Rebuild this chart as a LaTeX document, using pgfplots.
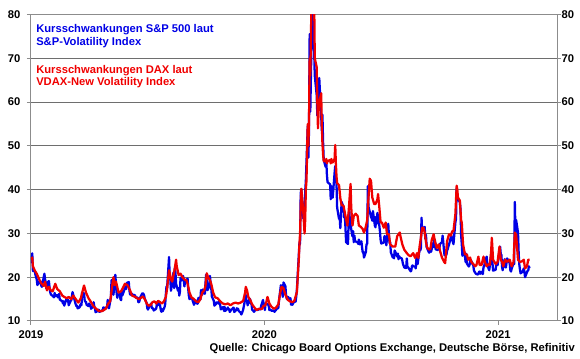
\documentclass[border=0pt]{standalone}
\usepackage{fontspec}
\setmainfont{Liberation Sans}
\usepackage{pgfplots}
\pgfplotsset{compat=1.18}
\definecolor{vixblue}{RGB}{0,0,230}
\definecolor{vdaxred}{RGB}{240,0,0}
\definecolor{gridgray}{RGB}{110,110,110}
\definecolor{axisgray}{RGB}{140,140,140}
\newcommand{\lblfont}{\bfseries\fontsize{8.4}{10}\selectfont}
\begin{document}
\begin{tikzpicture}
\path[use as bounding box] (-23.25pt,-28.5pt) rectangle (411.75pt,240.75pt);
\begin{axis}[
  at={(0pt,0pt)}, anchor=south west,
  scale only axis, width=394.5pt, height=229.875pt,
  xmin=0, xmax=823, ymin=10, ymax=80,
  xtick={0,365,731}, xticklabels={2019,2020,2021},
  ytick={10,20,...,80},
  xtick pos=left, ytick pos=both,
  tick align=outside, major tick length=3pt,
  tick style={draw=axisgray, line width=0.75pt},
  axis line style={draw=axisgray, line width=0.75pt},
  ymajorgrids, grid style={draw=gridgray, line width=0.75pt},
  ticklabel style={font=\lblfont},
  /pgf/number format/assume math mode=true,
  yticklabel style={xshift=-1.4pt},
  xticklabel style={yshift=-0.8pt},
  clip=true,
  every axis plot/.append style={line join=round, line width=1.7pt},
]
\addplot[vixblue] coordinates {
(1,23.2)(2,25.45)(3,21.4)(6,21.4)(7,20.5)(8,20.0)(9,19.5)(10,18.2)(13,19.1)(14,18.6)(15,19.0)(16,18.1)(17,17.8)(21,20.8)(22,19.5)(23,18.9)(24,17.4)(27,19.0)(28,19.1)(29,17.7)(30,16.6)(31,16.1)(34,15.7)(35,15.6)(36,15.4)(37,16.4)(38,15.7)(41,15.9)(42,15.4)(43,15.65)(44,16.2)(45,14.9)(49,14.5)(50,14.0)(51,14.5)(52,13.5)(55,14.8)(56,15.2)(57,14.7)(58,14.8)(59,13.6)(62,14.6)(63,14.7)(64,15.7)(65,16.6)(66,16.05)(69,14.3)(70,13.8)(71,13.4)(72,13.5)(73,12.9)(76,13.1)(77,13.6)(78,13.9)(79,13.6)(80,16.5)(83,16.3)(84,14.7)(85,14.4)(86,14.4)(87,13.7)(90,13.4)(91,14.0)(92,13.7)(93,13.6)(94,12.8)(97,13.2)(98,14.3)(99,13.3)(100,13.0)(101,12.0)(104,12.3)(105,12.2)(106,12.6)(107,12.1)(111,12.4)(112,12.3)(113,13.1)(114,13.1)(115,12.7)(118,13.1)(119,13.1)(120,14.8)(121,14.4)(122,12.9)(125,15.4)(126,19.3)(127,19.4)(128,19.1)(129,16.0)(132,20.55)(133,18.1)(134,16.4)(135,15.3)(136,15.96)(139,16.2)(140,14.95)(141,14.75)(142,16.9)(143,15.85)(147,17.5)(148,17.9)(149,17.3)(150,18.7)(153,18.9)(154,16.97)(155,16.1)(156,16.0)(157,16.3)(160,15.9)(161,15.99)(162,15.9)(163,15.8)(164,15.3)(167,15.35)(168,14.3)(169,14.3)(170,14.75)(171,15.4)(174,16.3)(175,16.3)(176,16.2)(177,15.8)(178,15.1)(181,14.06)(182,12.9)(183,12.6)(185,13.3)(188,14.0)(189,13.0)(190,12.9)(191,12.9)(192,12.4)(195,12.7)(196,12.9)(197,13.97)(198,13.5)(199,14.45)(202,13.5)(203,12.6)(204,12.1)(205,12.7)(206,12.2)(209,13.2)(210,13.9)(211,16.1)(212,17.9)(213,17.6)(216,24.6)(217,20.2)(218,19.5)(219,16.9)(220,17.97)(223,21.1)(224,17.5)(225,22.1)(226,21.2)(227,18.5)(230,16.9)(231,17.5)(232,15.8)(233,16.7)(234,19.9)(237,19.3)(238,20.3)(239,19.35)(240,17.9)(241,18.98)(245,19.7)(246,17.3)(247,15.8)(248,15.0)(251,15.3)(252,15.2)(253,14.6)(254,14.2)(255,13.7)(258,14.7)(259,14.4)(260,13.95)(261,14.0)(262,15.3)(265,14.9)(266,17.05)(267,15.96)(268,16.07)(269,17.2)(272,16.2)(273,18.6)(274,20.56)(275,19.1)(276,17.04)(279,17.9)(280,20.3)(281,18.6)(282,17.6)(283,15.6)(286,14.6)(287,13.5)(288,13.7)(289,13.8)(290,14.25)(293,14.0)(294,14.5)(295,14.0)(296,13.7)(297,12.65)(300,13.1)(301,13.2)(302,12.3)(303,13.2)(304,12.3)(307,12.8)(308,13.1)(309,12.6)(310,12.7)(311,12.07)(314,12.7)(315,12.7)(316,13.0)(317,13.05)(318,12.05)(321,12.5)(322,12.9)(323,12.8)(324,12.8)(325,12.3)(328,11.9)(329,11.5)(330,11.75)(332,12.6)(335,14.9)(336,15.96)(337,14.8)(338,14.5)(339,13.6)(342,15.1)(343,14.9)(344,14.0)(345,13.9)(346,12.6)(349,12.1)(350,12.3)(351,12.6)(352,12.5)(353,12.5)(356,12.6)(357,12.7)(359,12.65)(360,13.4)(363,14.8)(364,13.8)
(366,12.5)(367,14.0)(370,13.85)(371,13.8)(372,13.45)(373,12.5)(374,12.6)(377,12.3)(378,12.4)(379,12.4)(380,12.3)(381,12.1)(385,12.85)(386,12.9)(387,12.98)(388,14.6)(391,18.2)(392,16.3)(393,16.4)(394,15.5)(395,18.8)(398,17.97)(399,16.05)(400,15.15)(401,14.96)(402,15.5)(405,15.0)(406,15.2)(407,13.7)(408,14.15)(409,13.7)(413,14.8)(414,14.4)(415,15.6)(416,17.1)(419,25.0)(420,27.85)(421,27.6)(422,39.2)(423,40.1)(426,33.4)(427,36.8)(428,32.0)(429,39.6)(430,41.9)(433,54.5)(434,47.3)(435,53.9)(436,75.5)(437,57.8)(440,82.7)(441,75.9)(442,76.45)(443,72.0)(444,66.0)(447,61.6)(448,56.9)(449,63.95)(450,61.0)(451,65.5)(454,57.1)(455,53.5)(456,57.1)(457,50.9)(458,46.8)(461,45.2)(462,46.7)(463,43.35)(464,41.7)(468,41.2)(469,37.8)(470,40.8)(471,40.1)(472,38.15)(475,43.8)(476,45.4)(477,42.0)(478,41.4)(479,35.9)(482,33.3)(483,33.6)(484,31.2)(485,34.15)(486,37.2)(489,36.0)(490,33.6)(491,34.1)(492,31.4)(493,28.0)(496,27.6)(497,33.0)(498,35.3)(499,32.6)(500,31.9)(503,29.3)(504,30.5)(505,28.0)(506,29.5)(507,28.2)(511,28.0)(512,27.6)(513,28.6)(514,27.5)(517,28.2)(518,26.8)(519,25.7)(520,25.8)(521,24.5)(524,25.8)(525,27.6)(526,27.6)(527,40.8)(528,36.1)(531,34.4)(532,33.7)(533,33.5)(534,32.9)(535,35.1)(538,31.8)(539,31.4)(540,33.8)(541,32.2)(542,34.7)(545,31.8)(546,30.4)(547,28.6)(548,27.7)(552,27.9)(553,29.4)(554,28.1)(555,29.3)(556,27.3)(559,32.2)(560,29.5)(561,27.8)(562,28.0)(563,25.7)(566,24.5)(567,24.8)(568,24.3)(569,26.1)(570,25.8)(573,24.7)(574,25.4)(575,24.1)(576,24.8)(577,24.5)(580,24.3)(581,23.8)(582,23.0)(583,22.65)(584,22.2)(587,22.1)(588,24.3)(589,22.3)(590,22.3)(591,22.05)(594,21.35)(595,21.5)(596,22.5)(597,22.7)(598,22.5)(601,22.4)(602,22.0)(603,24.1)(604,24.5)(605,23.0)(608,26.4)(609,26.1)(610,26.6)(611,33.6)(612,30.75)(616,31.5)(617,28.8)(618,29.7)(619,26.9)(622,25.85)(623,25.6)(624,26.0)(625,26.5)(626,25.8)(629,27.8)(630,26.9)(631,28.6)(632,28.5)(633,26.4)(636,26.2)(637,26.3)(638,26.4)(639,26.7)(640,27.6)(643,28.0)(644,29.5)(645,28.1)(646,26.4)(647,25.0)(650,25.1)(651,26.1)(652,26.4)(653,27.0)(654,27.4)(657,29.2)(658,29.4)(659,28.65)(660,28.1)(661,27.55)(664,32.5)(665,33.35)(666,40.3)(667,37.6)(668,38.0)(671,37.1)(672,35.55)(673,29.6)(674,27.6)(675,24.9)(678,25.75)(679,24.8)(680,23.45)(681,25.35)(682,23.1)(685,22.45)(686,22.7)(687,23.8)(688,23.1)(689,23.7)(692,22.7)(693,21.6)(694,21.25)(696,20.8)(699,20.6)(700,20.8)(701,21.2)(702,21.3)(703,20.8)(706,21.3)(707,20.7)(708,22.3)(709,22.5)(710,23.3)(713,24.7)(714,22.9)(715,22.5)(716,21.9)(717,21.6)(720,25.2)(721,24.2)(722,23.3)(723,21.5)(727,21.7)(728,23.1)(729,22.8)(730,22.75)(734,26.97)(735,25.3)(736,25.1)(737,22.4)(738,21.6)(741,24.1)(742,23.3)(743,22.2)(744,23.25)(745,24.3)(749,23.2)(750,21.6)(751,21.3)(752,21.9)(755,23.2)(756,23.0)(757,37.2)(758,30.2)(759,33.1)(762,30.2)(763,25.6)(764,22.9)(765,21.8)(766,20.9)(769,21.2)(770,21.6)(771,22.0)(772,21.25)(773,20.0)(777,21.5)(778,21.5)(779,22.5)(780,22.05)
};
\addplot[vdaxred] coordinates {
(1,24.0)(2,24.5)(3,22.5)(6,21.5)(9,20.8)(13,19.5)(16,18.6)(20,18.0)(22,19.0)(25,17.0)(28,17.8)(31,17.0)(34,16.8)(38,18.5)(41,17.3)(45,16.8)(49,15.8)(52,15.5)(56,15.2)(59,15.5)(63,15.0)(66,15.8)(70,15.0)(74,14.2)(78,15.2)(81,17.0)(83,18.1)(86,16.5)(90,15.2)(94,14.3)(98,13.3)(102,12.8)(106,12.3)(110,12.2)(114,12.5)(117,12.8)(121,14.0)(124,14.5)(127,18.0)(129,20.0)(131,18.2)(133,19.0)(137,16.5)(141,16.8)(144,17.6)(147,18.5)(151,18.2)(155,17.0)(158,15.8)(163,15.5)(166,15.2)(169,15.0)(172,15.3)(175,15.6)(178,15.0)(181,14.0)(184,13.5)(187,13.6)(190,14.3)(193,14.5)(196,14.0)(199,14.6)(202,14.3)(205,14.0)(208,14.5)(211,15.5)(213,17.5)(216,21.6)(217,21.0)(219,19.5)(221,19.0)(223,20.5)(225,22.0)(227,24.0)(228,22.5)(231,20.5)(234,20.8)(237,20.0)(240,19.5)(243,19.3)(245,18.5)(248,16.5)(251,15.4)(255,15.0)(258,14.5)(262,14.3)(265,15.0)(268,16.5)(271,17.0)(273,18.0)(275,20.9)(277,20.0)(280,19.3)(282,18.5)(285,16.5)(288,15.4)(292,15.2)(296,14.5)(300,14.0)(304,13.8)(308,14.0)(312,13.6)(316,14.0)(320,14.2)(324,14.0)(328,14.2)(332,14.6)(335,16.5)(336,17.8)(338,17.0)(340,15.5)(343,14.8)(346,13.8)(350,13.0)(353,12.5)(357,12.8)(361,12.7)(364,13.5)
(366,13.5)(368,14.2)(370,15.5)(373,14.0)(376,13.3)(380,12.8)(383,13.0)(387,13.8)(390,16.5)(392,17.8)(395,17.5)(398,16.0)(402,14.8)(405,14.5)(409,14.3)(412,14.6)(416,16.6)(419,24.0)(420,27.5)(421,30.0)(422,36.0)(423,40.2)(426,35.0)(428,30.0)(429,33.0)(430,40.0)(431,42.0)(433,55.0)(434,50.0)(435,56.0)(436,70.0)(437,66.0)(440,93.0)(441,84.0)(442,90.0)(443,84.0)(444,70.0)(447,68.0)(448,60.0)(449,54.0)(450,58.0)(451,60.0)(454,62.0)(455,55.0)(456,50.5)(457,48.0)(458,46.5)(461,46.5)(462,47.0)(463,46.0)(464,46.5)(468,46.8)(469,46.0)(470,47.0)(471,46.5)(472,46.2)(475,47.0)(476,50.2)(477,46.0)(478,43.0)(479,41.5)(482,41.0)(484,38.0)(486,36.5)(489,36.3)(492,34.0)(495,31.8)(497,35.0)(500,41.3)(501,36.0)(503,31.8)(505,34.0)(508,34.5)(511,34.0)(513,31.8)(516,31.5)(519,31.0)(521,30.2)(523,31.0)(526,33.0)(528,38.0)(530,42.5)(532,42.0)(534,38.2)(537,36.7)(539,36.7)(542,37.8)(543,39.0)(545,36.0)(547,32.5)(549,32.5)(552,31.3)(555,32.5)(557,29.8)(560,29.8)(562,27.5)(566,27.0)(570,27.0)(573,29.4)(577,30.2)(578,29.4)(581,27.5)(584,26.3)(588,25.5)(591,25.0)(594,24.8)(598,25.5)(601,24.4)(604,25.5)(606,24.4)(608,27.0)(610,29.0)(612,31.3)(614,31.3)(616,30.2)(618,28.0)(620,26.7)(623,26.3)(625,26.5)(627,28.5)(630,29.8)(632,28.2)(635,26.7)(638,27.5)(640,26.0)(643,24.5)(646,23.6)(648,23.2)(651,28.2)(654,29.8)(657,29.5)(659,30.5)(661,30.5)(664,34.4)(666,40.9)(667,40.0)(668,38.2)(671,37.5)(673,33.0)(674,32.5)(676,27.5)(679,25.2)(682,25.2)(684,24.0)(687,24.5)(689,23.5)(692,23.0)(695,22.5)(697,22.8)(700,24.7)(702,22.8)(705,22.8)(708,24.7)(710,23.5)(713,22.5)(716,23.0)(718,22.8)(720,26.0)(721,29.0)(723,24.0)(727,23.0)(730,23.5)(733,27.0)(735,24.0)(737,23.5)(739,22.5)(742,24.0)(745,23.5)(749,24.0)(752,22.5)(755,23.5)(757,30.2)(758,29.5)(759,29.8)(762,24.0)(765,23.5)(768,23.6)(771,24.0)(773,22.0)(776,22.5)(778,24.0)(780,24.0)
};
\end{axis}
\begin{axis}[
  at={(0pt,0pt)}, anchor=south west,
  scale only axis, width=394.5pt, height=229.875pt,
  xmin=0, xmax=823, ymin=10, ymax=80,
  xtick=\empty, ytick={10,20,...,80},
  yticklabel pos=right,
  axis line style={draw=none},
  tick style={draw=none}, major tick length=0pt,
  ticklabel style={font=\lblfont},
  /pgf/number format/assume math mode=true,
]
\end{axis}
\begin{scope}[every node/.style={inner sep=0pt, font=\lblfont}]
\node[anchor=base west, text=vixblue] at (3.75pt,216pt) {Kursschwankungen S\&P 500 laut};
\node[anchor=base west, text=vixblue] at (3.75pt,206.7pt) {S\&P-Volatility Index};
\node[anchor=base west, text=vdaxred] at (3.75pt,185.8pt) {Kursschwankungen DAX laut};
\node[anchor=base west, text=vdaxred] at (3.75pt,176.5pt) {VDAX-New Volatility Index};
\node[anchor=base east] at (408pt,-23pt) {Quelle: Chicago Board Options Exchange, Deutsche Börse, Refinitiv};
\end{scope}
\end{tikzpicture}
\end{document}
